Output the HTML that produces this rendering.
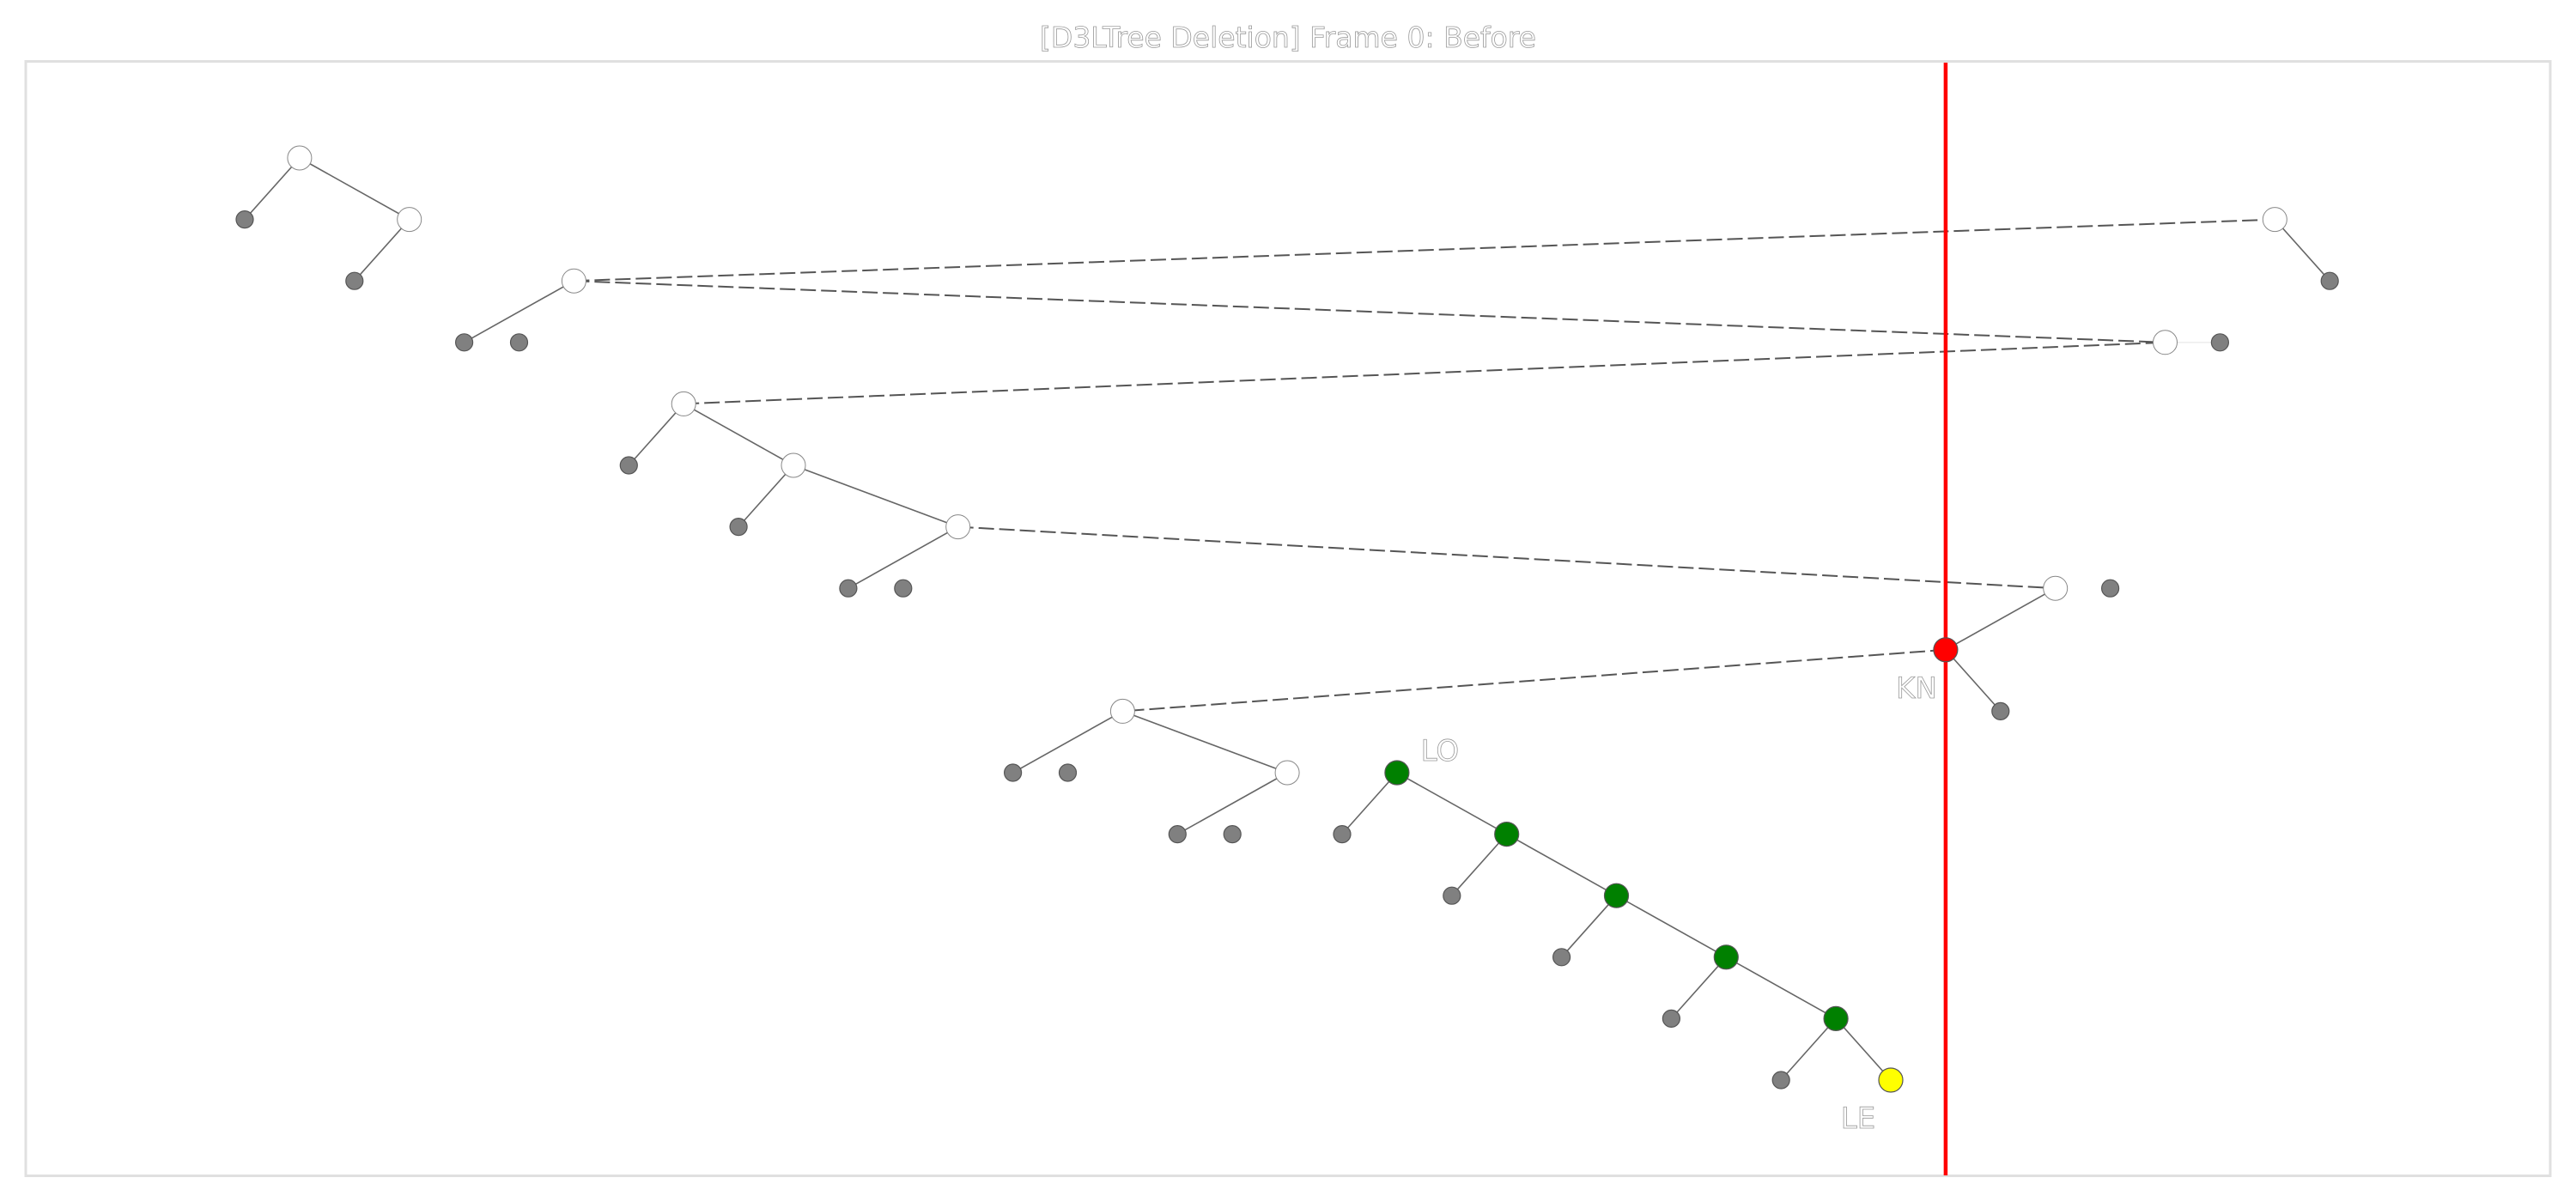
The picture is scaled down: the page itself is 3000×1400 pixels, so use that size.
<!DOCTYPE html>
<html><head><meta charset="utf-8"><style>
html,body{margin:0;padding:0;background:#fff;}
svg{display:block;}
text{font-family:"DejaVu Sans","Liberation Sans",sans-serif;}
</style></head><body>
<svg id="chart" width="3000" height="1400" viewBox="0 0 3000 1400" xmlns="http://www.w3.org/2000/svg">
<rect x="0" y="0" width="3000" height="1400" fill="#fff"/>
<text x="1500" y="55" text-anchor="middle" font-size="33" fill="#fff" stroke="#999" stroke-width="0.8">[D3LTree Deletion] Frame 0: Before</text>
<rect x="30" y="71.5" width="2940" height="1298" fill="none" stroke="#e0e0e0" stroke-width="3"/>
<g id="edges"></g>
<g id="marker"></g>
<g id="nodes"></g>
<g id="labels"></g>
</svg>
<script>
// node data: in-order column index, depth, kind
const nodeIds   = ["A","a1","B","b1","C","c1","c2","D","d1","E","e1","F","f1","G","g1","H","h1","h2","I","i1","KN","kn1","J","j1","j2","K","k1","k2","L","l1","M","m1","N","n1","O","o1","P","p1","LE"];
const nodeCols  = [1,0,3,2,6,4,5,37,38,35,36,8,7,10,9,13,11,12,33,34,31,32,16,14,15,19,17,18,21,20,23,22,25,24,27,26,29,28,30];
const nodeDepth = [0,1,1,2,2,3,3,1,2,3,3,4,5,5,6,6,7,7,7,7,8,9,9,10,10,10,11,11,10,11,11,12,12,13,13,14,14,15,15];
const nodeKind  = ["w","g","w","g","w","g","g","w","g","w","g","w","g","w","g","w","g","g","w","g","r","g","w","g","g","w","g","g","G","g","G","g","G","g","G","g","G","g","y"];
const solidEdges  = [["A","a1"],["A","B"],["B","b1"],["C","c1"],["D","d1"],["F","f1"],["F","G"],["G","g1"],["G","H"],["H","h1"],["I","KN"],["KN","kn1"],["J","j1"],["J","K"],["K","k1"],["L","l1"],["L","M"],["M","m1"],["M","N"],["N","n1"],["N","O"],["O","o1"],["O","P"],["P","p1"],["P","LE"]];
const faintEdges  = [["E","e1"]];
const dashedEdges = [["C","D"],["C","E"],["F","E"],["H","I"],["KN","J"]];
const labelNodes  = ["KN","L","LE"];
const labelTexts  = ["KN","LO","LE"];
const labelDx     = [-34,50,-38];
const labelDy     = [56,-14,56];
const markerCol   = 31;

const X = c => 285 + 63.9 * c;
const Y = d => 184 + 71.6 * d;
const NS = "http://www.w3.org/2000/svg";
const idx = {}; nodeIds.forEach((id,i)=>idx[id]=i);
const P = id => [X(nodeCols[idx[id]]), Y(nodeDepth[idx[id]])];

const eg = document.getElementById('edges');
function line(a,b,style){
  const [x1,y1]=P(a),[x2,y2]=P(b);
  const l=document.createElementNS(NS,'line');
  l.setAttribute('x1',x1);l.setAttribute('y1',y1);l.setAttribute('x2',x2);l.setAttribute('y2',y2);
  l.setAttribute('stroke', style==='dash'?'#555':(style==='faint'?'#eee':'#666'));
  l.setAttribute('stroke-width', style==='dash'?'2':'1.6');
  if(style==='dash') l.setAttribute('stroke-dasharray','18 6');
  
  
  eg.appendChild(l);
}
solidEdges.forEach(e=>line(e[0],e[1],'solid'));
faintEdges.forEach(e=>line(e[0],e[1],'faint'));
dashedEdges.forEach(e=>line(e[0],e[1],'dash'));

const mg=document.getElementById('marker');
const ml=document.createElementNS(NS,'line');
ml.setAttribute('x1',X(markerCol));ml.setAttribute('x2',X(markerCol));
ml.setAttribute('y1',73);ml.setAttribute('y2',1369);
ml.setAttribute('stroke','#ff0000');ml.setAttribute('stroke-width','4.5');


mg.appendChild(ml);

const ng=document.getElementById('nodes');
const fills={w:'#ffffff',g:'#808080',r:'#ff0000',G:'#008000',y:'#ffff00'};
nodeIds.forEach((id,i)=>{
  const k=nodeKind[i];
  const c=document.createElementNS(NS,'circle');
  c.setAttribute('cx',X(nodeCols[i]));c.setAttribute('cy',Y(nodeDepth[i]));
  c.setAttribute('r', k==='g'?10:14);
  c.setAttribute('fill',fills[k]);
  c.setAttribute('stroke', k==='w'?'#888':'#555');
  c.setAttribute('stroke-width', k==='w'?'1':'1.2');
  
  
  ng.appendChild(c);
});

const lg=document.getElementById('labels');
labelNodes.forEach((id,i)=>{
  const [x,y]=P(id);
  const t=document.createElementNS(NS,'text');
  t.setAttribute('x',x+labelDx[i]);t.setAttribute('y',y+labelDy[i]);
  t.setAttribute('text-anchor','middle');t.setAttribute('font-size','34');
  t.setAttribute('fill','#fff');t.setAttribute('stroke','#999');t.setAttribute('stroke-width','0.8');
  t.textContent=labelTexts[i];
  
  
  lg.appendChild(t);
});
</script>
</body></html>
